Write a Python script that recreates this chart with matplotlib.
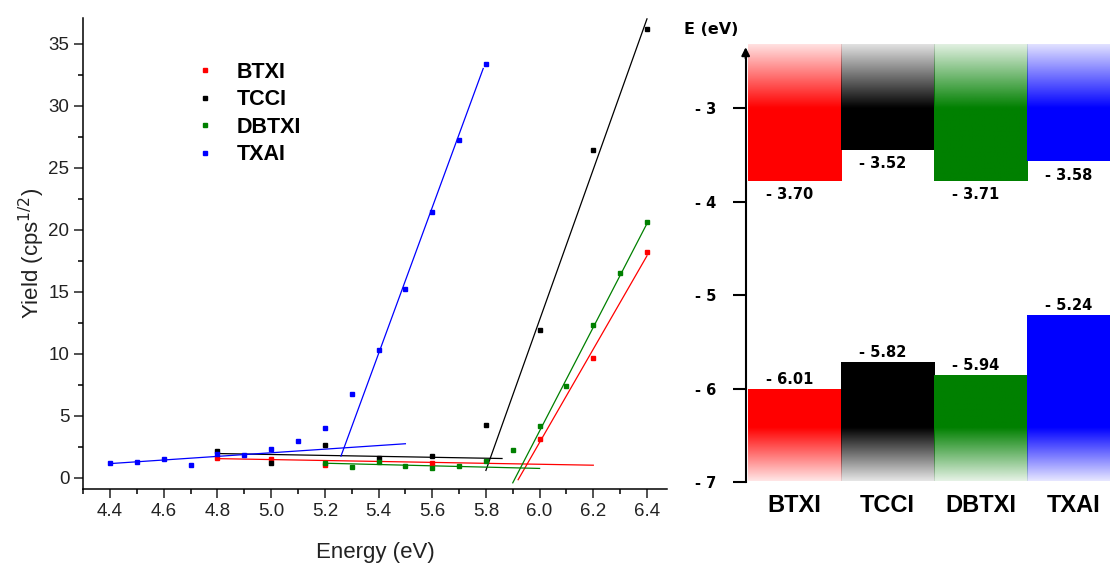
import numpy as np
import matplotlib
matplotlib.use("Agg")
import matplotlib.pyplot as plt
from matplotlib.colors import to_rgb
from matplotlib.ticker import MultipleLocator

# Datos: rendimiento de fotoemisión
btxi_x = [4.8, 5.0, 5.2, 5.6, 6.0, 6.2, 6.4]
btxi_y = [1.64, 1.56, 1.02, 1.21, 3.15, 9.68, 18.2]
tcci_x = [4.8, 5.0, 5.2, 5.4, 5.6, 5.8, 6.0, 6.2, 6.4]
tcci_y = [2.18, 1.16, 2.66, 1.64, 1.80, 4.30, 11.9, 26.45, 36.2]
dbtxi_x = [5.2, 5.3, 5.4, 5.5, 5.6, 5.7, 5.8, 5.9, 6.0, 6.1, 6.2, 6.3, 6.4]
dbtxi_y = [1.16, 0.89, 1.24, 0.97, 0.76, 0.97, 1.37, 2.26, 4.20, 7.40, 12.3, 16.5, 20.6]
txai_x = [4.4, 4.5, 4.6, 4.7, 4.8, 4.9, 5.0, 5.1, 5.2, 5.3, 5.4, 5.5, 5.6, 5.7, 5.8]
txai_y = [1.16, 1.27, 1.56, 1.05, 1.96, 1.88, 2.29, 2.98, 3.98, 6.80, 10.32, 15.24, 21.45, 27.26, 33.4]

# Rectas de ajuste (extremos)
btxi_base_x, btxi_base_y = [4.8, 6.2], [1.55, 1.02]
btxi_fit_x, btxi_fit_y = [5.92, 6.4], [-0.15, 17.9]
tcci_base_x, tcci_base_y = [4.8, 5.86], [1.96, 1.56]
tcci_fit_x, tcci_fit_y = [5.8, 6.4], [0.6, 37.0]
dbtxi_base_x, dbtxi_base_y = [5.2, 6.0], [1.18, 0.76]
dbtxi_fit_x, dbtxi_fit_y = [5.9, 6.4], [-0.4, 20.5]
txai_base_x, txai_base_y = [4.4, 5.5], [1.15, 2.75]
txai_fit_x, txai_fit_y = [5.26, 5.79], [1.75, 33.0]

# Niveles de energía
names = ["BTXI", "TCCI", "DBTXI", "TXAI"]
colors = ["#ff0000", "#000000", "#008000", "#0000ff"]
lumo_label = [-3.70, -3.52, -3.71, -3.58]
homo_label = [-6.01, -5.82, -5.94, -5.24]
lumo_edge = [-3.78, -3.45, -3.78, -3.57]
homo_edge = [-6.01, -5.72, -5.86, -5.22]

fig = plt.figure(figsize=(11.1, 5.63), dpi=100)

# ---------------- Panel izquierdo ----------------
ax = fig.add_axes([0.075, 0.1314, 0.526, 0.8373])
series = [
    ("BTXI", btxi_x, btxi_y, btxi_base_x, btxi_base_y, btxi_fit_x, btxi_fit_y, colors[0]),
    ("TCCI", tcci_x, tcci_y, tcci_base_x, tcci_base_y, tcci_fit_x, tcci_fit_y, colors[1]),
    ("DBTXI", dbtxi_x, dbtxi_y, dbtxi_base_x, dbtxi_base_y, dbtxi_fit_x, dbtxi_fit_y, colors[2]),
    ("TXAI", txai_x, txai_y, txai_base_x, txai_base_y, txai_fit_x, txai_fit_y, colors[3]),
]
for name, x, y, bx, by, fx, fy, c in series:
    ax.plot(bx, by, color=c, lw=0.9)
    ax.plot(fx, fy, color=c, lw=0.9)
for name, x, y, bx, by, fx, fy, c in series:
    ax.plot(x, y, "s", color=c, ms=3, ls="none", label=name)

ax.set_xlim(4.3, 6.475)
ax.set_ylim(-0.9, 37.1)
ax.set_xticks(np.arange(4.4, 6.41, 0.2))
ax.set_xticklabels(["%.1f" % v for v in np.arange(4.4, 6.41, 0.2)])
ax.xaxis.set_minor_locator(MultipleLocator(0.1))
ax.set_yticks(np.arange(0, 36, 5))
ax.yaxis.set_minor_locator(MultipleLocator(2.5))
for s in ["top", "right"]:
    ax.spines[s].set_visible(False)
for s in ["left", "bottom"]:
    ax.spines[s].set_linewidth(1.1)
ax.tick_params(which="major", direction="out", length=6.5, width=1.1,
               labelsize=13.5, colors="#222222")
ax.tick_params(which="minor", direction="out", length=3.3, width=1.1)
for lab in ax.get_xticklabels() + ax.get_yticklabels():
    lab.set_family("Liberation Sans")
ax.set_xlabel("Energy (eV)", fontsize=16, family="Liberation Sans", color="#222222")
ax.set_ylabel("Yield (cps$^{1/2}$)", fontsize=16, family="Liberation Sans", color="#222222")
ax.yaxis.set_label_coords(-0.062, 0.5)
ax.xaxis.set_label_coords(0.5, -0.112)

leg = ax.legend(loc="upper left", bbox_to_anchor=(0.161, 0.947), frameon=False,
                handlelength=0.8, handletextpad=1.07, labelspacing=0.3,
                prop={"family": "Liberation Sans", "weight": "bold", "size": 15.5})

# ---------------- Panel derecho ----------------
ax2 = fig.add_axes([680 / 1110, 0, 430 / 1110, 1])
ax2.set_xlim(-0.731, 3.892)
ax2.set_ylim(-7.866, -1.845)

lumo_top, lumo_solid = -2.32, -3.0
homo_bot, homo_solid = -6.99, -6.42
n = 300
for i, c in enumerate(colors):
    rgb = np.array(to_rgb(c))
    # LUMO
    yy = np.linspace(lumo_edge[i], lumo_top, n)
    a = np.where(yy <= lumo_solid, 1.0,
                 1.0 - 0.88 * (yy - lumo_solid) / (lumo_top - lumo_solid))
    img = np.zeros((n, 1, 4))
    img[:, 0, :3] = rgb
    img[:, 0, 3] = a
    ax2.imshow(img, extent=[i, i + 1, lumo_edge[i], lumo_top], origin="lower",
               aspect="auto", interpolation="bilinear")
    # HOMO
    yy = np.linspace(homo_bot, homo_edge[i], n)
    a = np.where(yy >= homo_solid, 1.0,
                 1.0 - 0.9 * (homo_solid - yy) / (homo_solid - homo_bot))
    img = np.zeros((n, 1, 4))
    img[:, 0, :3] = rgb
    img[:, 0, 3] = a
    ax2.imshow(img, extent=[i, i + 1, homo_bot, homo_edge[i]], origin="lower",
               aspect="auto", interpolation="bilinear")

    ax2.annotate("- %.2f" % abs(lumo_label[i]), xy=(i + 0.45, lumo_edge[i]),
                 xytext=(0, -10), textcoords="offset points", ha="center", va="center",
                 fontsize=10.5, fontweight="bold", family="DejaVu Sans")
    ax2.annotate("- %.2f" % abs(homo_label[i]), xy=(i + 0.45, homo_edge[i]),
                 xytext=(0, 7), textcoords="offset points", ha="center", va="center",
                 fontsize=10.5, fontweight="bold", family="DejaVu Sans")
    ax2.text(i + 0.5, -7.25, names[i], ha="center", va="center", fontsize=17,
             fontweight="bold", family="Liberation Sans")

ax2.set_xlim(-0.731, 3.892)
ax2.set_ylim(-7.866, -1.845)
for s in ["top", "right", "bottom"]:
    ax2.spines[s].set_visible(False)
ax2.spines["left"].set_position(("data", -0.025))
ax2.spines["left"].set_bounds(-7.0, -2.45)
ax2.spines["left"].set_linewidth(1.5)
ax2.set_xticks([])
ax2.set_yticks([-3, -4, -5, -6, -7])
ax2.set_yticklabels(["- 3", "- 4", "- 5", "- 6", "- 7"])
ax2.tick_params(axis="y", direction="out", length=9.4, width=1.5, pad=12, labelsize=10.5)
for lab in ax2.get_yticklabels():
    lab.set_fontweight("bold")
    lab.set_family("DejaVu Sans")
ax2.annotate("", xy=(-0.025, -2.32), xytext=(-0.025, -2.5),
             arrowprops=dict(arrowstyle="-|>", color="k", lw=1.5, mutation_scale=12))
ax2.patch.set_alpha(0)
fig.text(711.5 / 1110, 1 - 29 / 563, "E (eV)", ha="center", va="center",
         fontsize=11.5, fontweight="bold", family="DejaVu Sans")

fig.savefig("out.png", dpi=100)
